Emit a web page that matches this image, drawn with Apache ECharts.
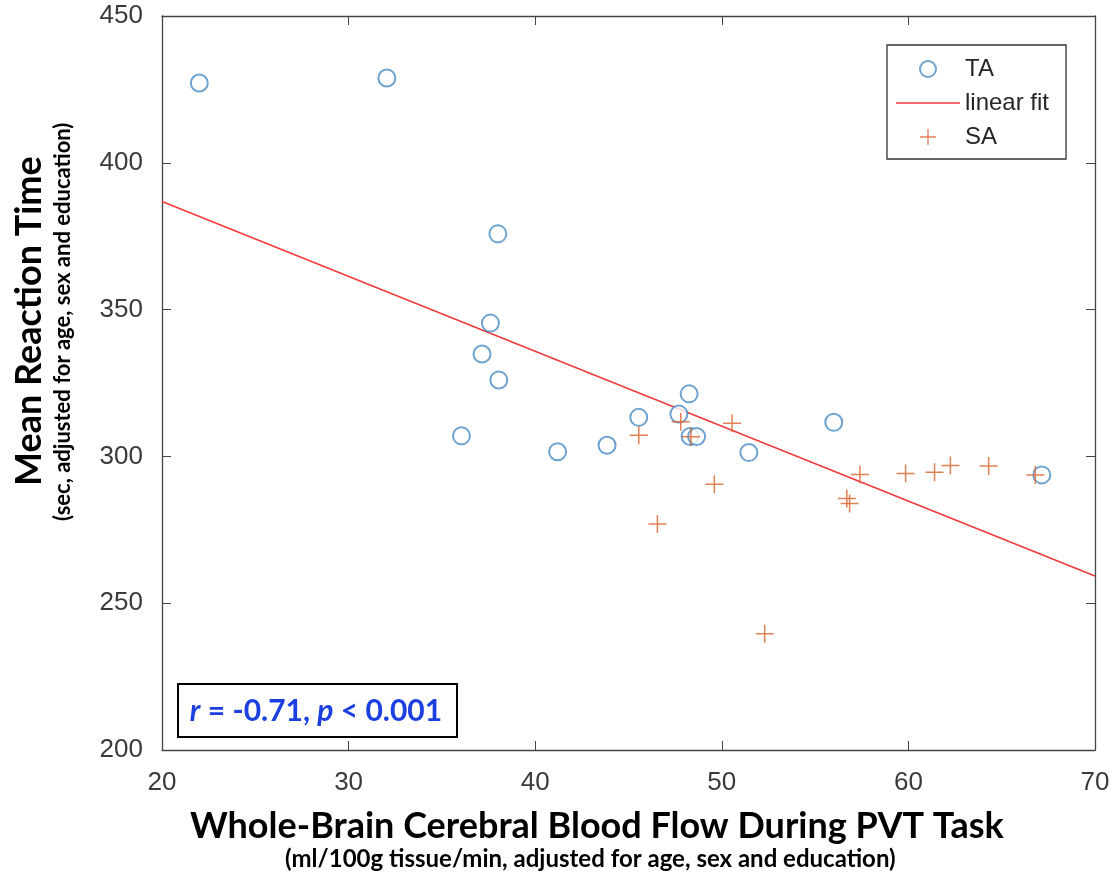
<!DOCTYPE html>
<html>
<head>
<meta charset="utf-8">
<script src="https://cdn.jsdelivr.net/npm/echarts@6/dist/echarts.min.js"></script>
<style>
  html, body { margin: 0; padding: 0; background: #fff; }
  #chart { width: 1113px; height: 877px; }
</style>
</head>
<body>
<div id="chart"></div>
<script>
// TA group (blood flow, reaction time)
var taX = [22.0, 32.05, 38.0, 37.6, 37.15, 38.05, 36.05, 41.2, 43.85, 45.55, 47.7, 48.25, 48.3, 48.65, 51.45, 56.0, 67.15];
var taY = [427.2, 428.9, 375.8, 345.4, 334.9, 326.0, 307.0, 301.6, 303.8, 313.3, 314.4, 321.3, 306.8, 306.8, 301.3, 311.6, 293.7];
// SA group
var saX = [45.55, 46.55, 47.8, 48.35, 49.6, 50.55, 52.3, 56.7, 56.85, 57.4, 59.85, 61.4, 62.25, 64.3, 66.8];
var saY = [307.2, 277.0, 311.8, 306.7, 290.5, 311.3, 239.6, 285.7, 284.0, 293.8, 294.2, 294.6, 296.9, 296.7, 293.7];
// linear fit end points
var fitX = [20, 70];
var fitY = [386.8, 259.3];

var xTicks = { min: 20, max: 70, interval: 10 };
var yTicks = { min: 200, max: 450, interval: 50 };

function pairs(xs, ys) {
    return xs.map(function (v, i) { return [v, ys[i]]; });
}

var plusPath = 'path://M8.25,0H9.75V18H8.25Z M0,8.25H18V9.75H0Z';
var linePath = 'path://M0,0H64V1.6H0Z';
var axisCol = '#454545';
var taCol = '#4a8cc6';
var saCol = '#d9602a';
var fitCol = '#ee3b3b';

var myChart = echarts.init(document.getElementById('chart'));

function mkAxis(pos, range, showLabel, margin) {
    return {
        type: 'value', position: pos, min: range.min, max: range.max, interval: range.interval,
        axisLine: { show: true, lineStyle: { color: axisCol, width: 1.3 } },
        axisTick: { show: true, inside: true, length: 9, lineStyle: { color: axisCol } },
        splitLine: { show: false },
        axisLabel: { show: showLabel, color: '#3a3a3a', fontSize: 26, fontFamily: 'Liberation Sans', margin: margin }
    };
}

var option = {
    animation: false,
    backgroundColor: '#fff',
    grid: { left: 162, right: 18, top: 16, bottom: 127 },
    xAxis: [
        mkAxis('bottom', xTicks, true, 20),
        mkAxis('top', xTicks, false, 0)
    ],
    yAxis: [
        mkAxis('left', yTicks, true, 19),
        mkAxis('right', yTicks, false, 0)
    ],
    legend: {
        orient: 'vertical',
        left: 887, top: 45,
        padding: [12, 17, 10, 9],
        itemWidth: 64, itemHeight: 16, itemGap: 10,
        borderColor: '#333', borderWidth: 1.3, backgroundColor: '#fff',
        textStyle: { fontSize: 24, color: '#262626', fontFamily: 'Liberation Sans' },
        data: [
            { name: 'TA', icon: 'emptyCircle' },
            { name: 'linear fit', icon: linePath },
            { name: 'SA', icon: plusPath }
        ]
    },
    series: [
        {
            name: 'TA', type: 'scatter', symbol: 'emptyCircle', symbolSize: 17,
            itemStyle: { color: taCol, borderColor: taCol, borderWidth: 1.6 },
            data: pairs(taX, taY), z: 3
        },
        {
            name: 'linear fit', type: 'line', symbol: 'none', showSymbol: false,
            lineStyle: { color: fitCol, width: 1.6 }, itemStyle: { color: fitCol },
            data: pairs(fitX, fitY), z: 2
        },
        {
            name: 'SA', type: 'scatter', symbol: plusPath, symbolSize: 18,
            itemStyle: { color: saCol },
            data: pairs(saX, saY), z: 4
        }
    ],
    graphic: [
        {
            type: 'text', left: 190, top: 808,
            style: { text: 'Whole-Brain Cerebral Blood Flow During PVT Task',
                font: 'bold 36px Lato', fill: '#000' }
        },
        {
            type: 'text', left: 285, top: 847,
            style: { text: '(ml/100g tissue/min, adjusted for age, sex and education)',
                font: 'bold 24px Lato', fill: '#000' }
        },
        {
            type: 'text', rotation: Math.PI / 2, x: 11, y: 486,
            style: { text: 'Mean Reaction Time', font: 'bold 36px Lato', fill: '#000' }
        },
        {
            type: 'text', rotation: Math.PI / 2, x: 52, y: 521,
            style: { text: '(sec, adjusted for age, sex and education)', font: 'bold 22px Lato', fill: '#000' }
        },
        {
            type: 'rect', shape: { x: 178, y: 684, width: 279, height: 53 },
            style: { fill: '#fff', stroke: '#000', lineWidth: 2 }, z: 10
        },
        {
            type: 'text', x: 316, y: 711, z: 11,
            style: {
                text: '{i|r}{b| = -0.71, }{i|p}{b| < 0.001}',
                align: 'center', verticalAlign: 'middle',
                rich: {
                    i: { font: 'italic bold 30px Lato', fill: '#1c3fe0' },
                    b: { font: 'bold 30px Lato', fill: '#1c3fe0' }
                }
            }
        }
    ]
};

myChart.setOption(option);
</script>
</body>
</html>
